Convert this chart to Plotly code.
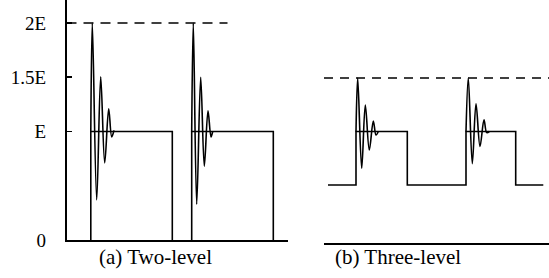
import plotly.graph_objects as go

# ---------------- data (time units, voltage in units of E) ----------------
# (a) Two-level: square pulses 0 -> E
two_rect1_t = [24.3, 24.3, 105.8, 105.8]
two_rect1_v = [0, 1, 1, 0]
two_rect2_t = [125.2, 125.2, 206.8, 206.8]
two_rect2_v = [0, 1, 1, 0]
# ringing overshoot (extrema)
two_ring1_t = [24.3, 25.8, 30.2, 34.2, 38.2, 42.2, 45.2, 47.5]
two_ring1_v = [1.0, 2.0, 0.37, 1.505, 0.71, 1.21, 0.95, 1.01]
two_ring2_t = [125.2, 126.8, 130.2, 134.2, 137.8, 141.5, 144.5, 146.2]
two_ring2_v = [1.0, 2.0, 0.33, 1.50, 0.68, 1.19, 0.95, 1.0]
two_limit_t = [0, 161]
two_limit_v = [2, 2]

# (b) Three-level: steps E/2 -> E
three_rect_t = [2, 30, 30, 81.3, 81.3, 140, 140, 189.7, 189.7, 217.3]
three_rect_v = [0.5, 0.5, 1, 1, 0.5, 0.5, 1, 1, 0.5, 0.5]
three_ring1_t = [30, 31.7, 35.7, 39.3, 43.3, 47.3, 50.0, 52.3]
three_ring1_v = [1.0, 1.5, 0.656, 1.248, 0.827, 1.098, 0.967, 1.0]
three_ring2_t = [140, 142.3, 146.3, 150.0, 154.0, 158.0, 160.7, 163.3]
three_ring2_v = [1.0, 1.5, 0.70, 1.26, 0.86, 1.11, 0.99, 1.0]
three_limit_t = [-2, 223]
three_limit_v = [1.5, 1.5]

y_tick_vals = [0, 1, 1.5, 2]
y_tick_text = ["0", "E", "1.5E", "2E"]
captions = ["(a) Two-level", "(b) Three-level"]

W, H = 549, 278
FONT = "Liberation Serif, Times New Roman, serif"
LW = 1.6

fig = go.Figure()

def line(t, v, xa, ya, shape="linear", dash=None):
    fig.add_trace(go.Scatter(
        x=t, y=v, mode="lines", xaxis=xa, yaxis=ya,
        line=dict(color="black", width=LW, shape=shape, dash=dash,
                  smoothing=1.0 if shape == "spline" else None),
        hoverinfo="skip", showlegend=False))

line(two_limit_t, two_limit_v, "x", "y", dash="10px,7px")
line(two_rect1_t, two_rect1_v, "x", "y")
line(two_rect2_t, two_rect2_v, "x", "y")
line(two_ring1_t, two_ring1_v, "x", "y", shape="spline")
line(two_ring2_t, two_ring2_v, "x", "y", shape="spline")

line(three_limit_t, three_limit_v, "x2", "y2", dash="9px,7px")
line(three_rect_t, three_rect_v, "x2", "y2")
line(three_ring1_t, three_ring1_v, "x2", "y2", shape="spline")
line(three_ring2_t, three_ring2_v, "x2", "y2", shape="spline")

fig.update_layout(
    width=W, height=H,
    margin=dict(l=0, r=0, t=0, b=0, autoexpand=False),
    paper_bgcolor="white", plot_bgcolor="white",
    font=dict(family=FONT, color="black", size=18),
    xaxis=dict(domain=[66.5 / W, 288 / W], range=[0, 221.5], anchor="y",
               automargin=False,
               showline=True, linecolor="black", linewidth=LW,
               showgrid=False, zeroline=False, showticklabels=False, ticks=""),
    yaxis=dict(domain=[38 / H, 1], range=[0, 240 / 108.5], anchor="x",
               automargin=False,
               showline=True, linecolor="black", linewidth=LW,
               showgrid=False, zeroline=False,
               tickvals=y_tick_vals, ticktext=y_tick_text,
               ticks="inside", ticklen=5, tickwidth=LW, tickcolor="black",
               ticklabelstandoff=15,
               tickfont=dict(family=FONT, size=19, color="black")),
    xaxis2=dict(domain=[324 / W, 1], range=[-2, 223], anchor="y2",
                automargin=False,
                showline=True, linecolor="black", linewidth=LW,
                showgrid=False, zeroline=False, showticklabels=False, ticks=""),
    yaxis2=dict(domain=[35 / H, 1], range=[-4.5 / 107, 238.5 / 107], anchor="x2",
                automargin=False,
                showline=False, showgrid=False, zeroline=False,
                showticklabels=False, ticks=""),
    annotations=[
        dict(text=captions[0], x=155 / W, y=(H - 257) / H, xref="paper", yref="paper",
             xanchor="center", yanchor="middle", showarrow=False,
             font=dict(family=FONT, size=21, color="black")),
        dict(text=captions[1], x=398 / W, y=(H - 257) / H, xref="paper", yref="paper",
             xanchor="center", yanchor="middle", showarrow=False,
             font=dict(family=FONT, size=21, color="black")),
    ],
)

fig.write_html(
    "out.html",
    config={"displayModeBar": False, "staticPlot": True},
    post_script="document.body.style.margin='0';document.body.style.overflow='hidden';",
)
